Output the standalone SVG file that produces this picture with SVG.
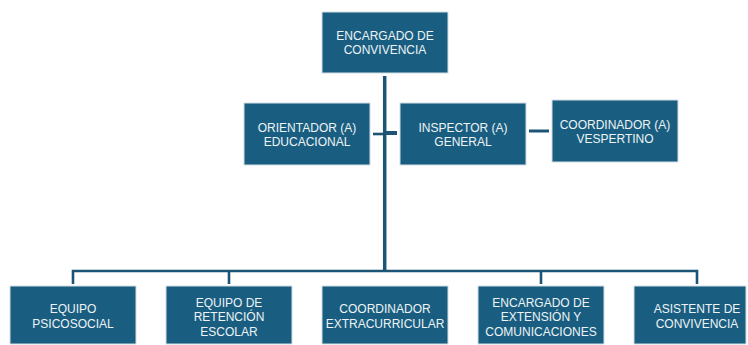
<svg xmlns="http://www.w3.org/2000/svg" width="748" height="345" viewBox="0 0 748 345">
<style>
.box{fill:#195e80;stroke:#d3dee5;stroke-width:1}
.t{font-family:"Liberation Sans",Arial,sans-serif;font-size:12px;fill:#eef3f6;text-anchor:middle}
.ln{stroke:#1b5475;fill:none;stroke-linecap:butt}
</style>
<rect width="748" height="345" fill="#ffffff"/>
<g id="connectors">
<line class="ln" x1="384.7" y1="76" x2="384.7" y2="272" stroke-width="3.5"/>
<line class="ln" x1="373" y1="134" x2="386" y2="134" stroke-width="2.6"/>
<line class="ln" x1="386" y1="133" x2="397" y2="133" stroke-width="4"/>
<line class="ln" x1="529" y1="131" x2="549" y2="131" stroke-width="3"/>
<polyline class="ln" points="73,284 73,271 697,271 697,284" stroke-width="2.6"/>
<line class="ln" x1="229" y1="271" x2="229" y2="284" stroke-width="2.6"/>
<line class="ln" x1="541" y1="271" x2="541" y2="284" stroke-width="2.6"/>
</g>
<g id="encargado-convivencia">
<rect class="box" x="322" y="12" width="126" height="61"/>
<text class="t" x="385" y="39.5">ENCARGADO DE</text>
<text class="t" x="385" y="54">CONVIVENCIA</text>
</g>
<g id="orientador">
<rect class="box" x="244" y="103" width="126" height="62"/>
<text class="t" x="307" y="131.5">ORIENTADOR (A)</text>
<text class="t" x="307" y="145.5">EDUCACIONAL</text>
</g>
<g id="inspector">
<rect class="box" x="400" y="103" width="126" height="62"/>
<text class="t" x="463" y="131.5">INSPECTOR (A)</text>
<text class="t" x="463" y="145.5">GENERAL</text>
</g>
<g id="coordinador-vespertino">
<rect class="box" x="552" y="100" width="126" height="62"/>
<text class="t" x="615" y="128.5">COORDINADOR (A)</text>
<text class="t" x="615" y="142.5">VESPERTINO</text>
</g>
<g id="equipo-psicosocial">
<rect class="box" x="10" y="286" width="126" height="58"/>
<text class="t" x="73" y="313.3">EQUIPO</text>
<text class="t" x="73" y="328">PSICOSOCIAL</text>
</g>
<g id="equipo-retencion">
<rect class="box" x="166" y="286" width="126" height="58"/>
<text class="t" x="229" y="306.6">EQUIPO DE</text>
<text class="t" x="229" y="321.1">RETENCIÓN</text>
<text class="t" x="229" y="335.8">ESCOLAR</text>
</g>
<g id="coordinador-extracurricular">
<rect class="box" x="322" y="286" width="126" height="58"/>
<text class="t" x="385" y="313.3">COORDINADOR</text>
<text class="t" x="385" y="328">EXTRACURRICULAR</text>
</g>
<g id="encargado-extension">
<rect class="box" x="478" y="286" width="126" height="58"/>
<text class="t" x="541" y="306.6">ENCARGADO DE</text>
<text class="t" x="541" y="321.1">EXTENSIÓN Y</text>
<text class="t" x="541" y="335.8">COMUNICACIONES</text>
</g>
<g id="asistente-convivencia">
<rect class="box" x="634" y="286" width="112" height="58"/>
<text class="t" x="697" y="313.3">ASISTENTE DE</text>
<text class="t" x="697" y="328">CONVIVENCIA</text>
</g>
</svg>
